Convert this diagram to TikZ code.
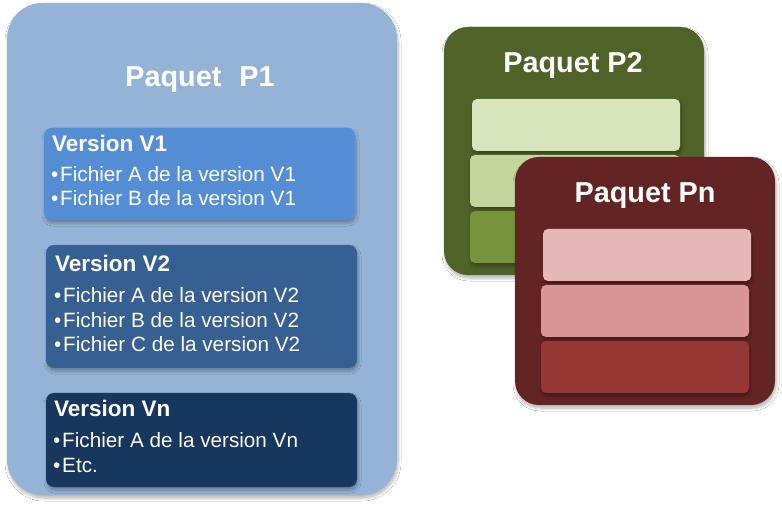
\documentclass[tikz,border=0pt]{standalone}
\usepackage{fontspec}
\setmainfont{Liberation Sans}
\usetikzlibrary{shadows.blur}
\definecolor{bleuPaquet}{HTML}{95B3D7}
\definecolor{bleuVa}{HTML}{558ED5}
\definecolor{bleuVb}{HTML}{376092}
\definecolor{bleuVn}{HTML}{17375E}
\definecolor{vertPaquet}{HTML}{4F6228}
\definecolor{vertA}{HTML}{D7E4BD}
\definecolor{vertB}{HTML}{C3D69B}
\definecolor{vertC}{HTML}{77933C}
\definecolor{rougePaquet}{HTML}{632523}
\definecolor{rougeA}{HTML}{E6B9B8}
\definecolor{rougeB}{HTML}{D99694}
\definecolor{rougeC}{HTML}{953735}
\newcommand{\puce}{•\hspace{2pt}}

\begin{document}
\begin{tikzpicture}[x=1pt,y=1pt]
\tikzstyle{every node}+=[inner sep=0pt, outer sep=0pt]
\tikzstyle{ombre}=[blur shadow={shadow xshift=1pt, shadow yshift=-3pt, shadow blur steps=8, shadow blur radius=3pt, shadow opacity=30}]
\tikzstyle{paquet}=[ombre, rectangle, rounded corners=36pt, anchor=north west]
\tikzstyle{petitpaquet}=[ombre, rectangle, rounded corners=24pt, anchor=north west]
\tikzstyle{version}=[ombre, rectangle, rounded corners=8pt, anchor=north west, minimum width=311pt]
\tikzstyle{barre}=[ombre, rectangle, rounded corners=5pt, anchor=north west, minimum width=208pt, minimum height=52pt]
\tikzstyle{titre}=[text=white, font=\fontsize{28.8}{30}\selectfont\bfseries, anchor=base]
\tikzstyle{vtitre}=[text=white, font=\fontsize{22.5}{24}\selectfont\bfseries, anchor=base west]
\tikzstyle{fichier}=[text=white, font=\fontsize{20.7}{22}\selectfont, anchor=base west]
\useasboundingbox (0,0) rectangle (782,-510);
\fill [white] (0,0) rectangle (782,-510);
% paquet P1
\node [paquet, fill=bleuPaquet, minimum width=390pt, minimum height=492pt] (p1) at (7,-3) {};
\node [titre] (p1t) at (200,-87) {Paquet\hspace{10pt} P1};
\node [version, fill=bleuVa, minimum height=92pt] (v1) at (44,-128) {};
\node [vtitre] (v1t) at (52,-152) {Version V1};
\node [fichier] (v1a) at (51,-182) {\puce Fichier A de la version V1};
\node [fichier] (v1b) at (51,-206) {\puce Fichier B de la version V1};
\node [version, fill=bleuVb, minimum height=123pt] (v2) at (46,-245) {};
\node [vtitre] (v2t) at (55,-272) {Version V2};
\node [fichier] (v2a) at (54,-303) {\puce Fichier A de la version V2};
\node [fichier] (v2b) at (54,-327.5) {\puce Fichier B de la version V2};
\node [fichier] (v2c) at (54,-352) {\puce Fichier C de la version V2};
\node [version, fill=bleuVn, minimum height=94pt] (vn) at (46,-393) {};
\node [vtitre] (vnt) at (54,-417) {Version Vn};
\node [fichier] (vna) at (53,-447) {\puce Fichier A de la version Vn};
\node [fichier] (vnb) at (53,-472) {\puce Etc.};
% paquet P2
\node [petitpaquet, fill=vertPaquet, minimum width=260pt, minimum height=248pt] (p2) at (444,-27) {};
\node [titre] (p2t) at (573,-73) {Paquet P2};
\node [barre, fill=vertA] (p2a) at (472,-99) {};
\node [barre, fill=vertB, minimum width=210pt] (p2b) at (470,-155) {};
\node [barre, fill=vertC, minimum width=210pt] (p2c) at (470,-211) {};
% paquet Pn
\node [petitpaquet, fill=rougePaquet, minimum width=260pt, minimum height=248pt] (pn) at (515,-157) {};
\node [titre] (pnt) at (645,-203) {Paquet Pn};
\node [barre, fill=rougeA] (pna) at (543,-229) {};
\node [barre, fill=rougeB] (pnb) at (541,-285) {};
\node [barre, fill=rougeC] (pnc) at (541,-341) {};
\end{tikzpicture}
\end{document}
